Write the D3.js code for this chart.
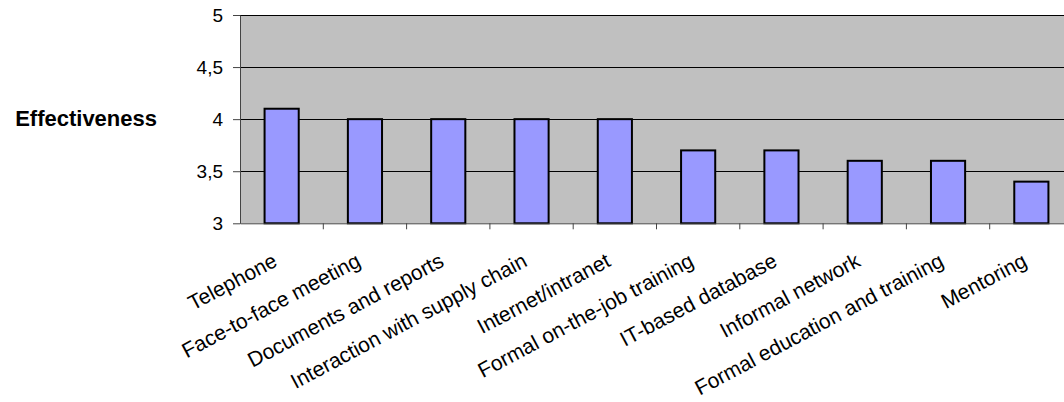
<!DOCTYPE html>
<html>
<head>
<meta charset="utf-8">
<script src="https://cdn.jsdelivr.net/npm/d3@7"></script>
<style>
  html, body { margin: 0; padding: 0; background: #fff; }
  svg { display: block; }
  text { font-family: "Liberation Sans", Arial, sans-serif; }
</style>
</head>
<body>
<script>
const categories = ["Telephone", "Face-to-face meeting", "Documents and reports", "Interaction with supply chain", "Internet/intranet", "Formal on-the-job training", "IT-based database", "Informal network", "Formal education and training", "Mentoring"];
const values = [4.1, 4.0, 4.0, 4.0, 4.0, 3.7, 3.7, 3.6, 3.6, 3.4];
const yTicks = [3, 3.5, 4, 4.5, 5];
const yTickLabels = ["3", "3,5", "4", "4,5", "5"];
const yTitle = "Effectiveness";

const W = 1064, H = 402;
const plotLeft = 240, plotTop = 15, plotBottom = 223.3, plotRight = 1073;

const svg = d3.select("body").append("svg").attr("width", W).attr("height", H);

const x = d3.scaleBand().domain(categories).range([plotLeft, plotRight]).paddingInner(0).paddingOuter(0);
const y = d3.scaleLinear().domain([3, 5]).range([plotBottom, plotTop]);

// plot background
svg.append("rect").attr("x", plotLeft).attr("y", plotTop).attr("width", plotRight - plotLeft).attr("height", plotBottom - plotTop).attr("fill", "#C0C0C0");

// gridlines
svg.append("g").selectAll("line").data(yTicks.filter(d => d > 3)).join("line")
  .attr("x1", plotLeft).attr("x2", plotRight)
  .attr("y1", d => Math.round(y(d)) + 0.5).attr("y2", d => Math.round(y(d)) + 0.5)
  .attr("stroke", "#000").attr("stroke-width", 1);

// bars
const bw = x.bandwidth() * 0.41;
svg.append("g").selectAll("rect").data(values).join("rect")
  .attr("x", (d, i) => x(categories[i]) + (x.bandwidth() - bw) / 2)
  .attr("y", d => y(d))
  .attr("width", bw)
  .attr("height", d => plotBottom - y(d))
  .attr("fill", "#9999FF").attr("stroke", "#000").attr("stroke-width", 2);

// y axis
const yAxis = d3.axisLeft(y).tickValues(yTicks).tickFormat((d, i) => yTickLabels[i]).tickSizeInner(7).tickSizeOuter(0).tickPadding(10);
const gy = svg.append("g").attr("transform", `translate(${plotLeft},0)`).call(yAxis);
gy.select(".domain").attr("stroke", "#444");
gy.selectAll(".tick line").attr("stroke", "#444");
gy.selectAll("text").attr("font-size", 19).attr("fill", "#000").style("font-family", '"Liberation Sans", Arial, sans-serif');

// x axis
const xAxis = d3.axisBottom(x).tickValues([]).tickSizeOuter(0);
const gx = svg.append("g").attr("transform", `translate(0,${plotBottom})`).call(xAxis);
gx.select(".domain").attr("stroke", "#444");
gx.selectAll("line.sep").data(categories.slice(1)).join("line").attr("class", "sep")
  .attr("x1", d => x(d)).attr("x2", d => x(d)).attr("y1", 0).attr("y2", 6).attr("stroke", "#444");

// x labels
svg.append("g").selectAll("text").data(categories).join("text")
  .attr("transform", d => `translate(${x(d) + x.bandwidth() / 2 - 3},${plotBottom + 42}) rotate(-28)`)
  .attr("text-anchor", "end")
  .attr("font-size", 21)
  .attr("fill", "#000")
  .text(d => d);

// y title
svg.append("text").attr("x", 157).attr("y", 126).attr("text-anchor", "end")
  .attr("font-size", 22).attr("font-weight", "bold").attr("fill", "#000").text(yTitle);
</script>
</body>
</html>
